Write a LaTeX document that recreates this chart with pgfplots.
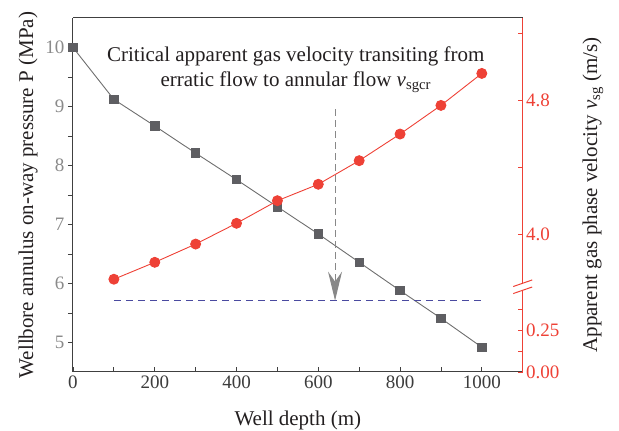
\documentclass[border=0pt]{standalone}
\usepackage{fontspec}
\setmainfont{Liberation Serif}
\usepackage{pgfplots}
\pgfplotsset{compat=1.18}
\usetikzlibrary{arrows.meta}

\definecolor{sqgray}{HTML}{5E5E62}
\definecolor{linegray}{HTML}{6E6E6E}
\definecolor{vred}{HTML}{EE4136}
\definecolor{dashblue}{HTML}{4A4AA0}
\definecolor{ticklab}{HTML}{8A8A8A}
\definecolor{xlab}{HTML}{3C3C3C}
\definecolor{framegray}{HTML}{404040}
\definecolor{labtext}{HTML}{231F20}
\definecolor{arrowgray}{HTML}{888888}

\newcommand{\tickfont}{\fontsize{19}{22}\selectfont}
\newcommand{\labfont}{\fontsize{21}{24}\selectfont}

\begin{document}
\begin{tikzpicture}[x=1pt,y=1pt]
\path[use as bounding box] (-73pt,-59pt) rectangle (546pt,372pt);

% Pressure along the well (left axis)
\begin{axis}[
  at={(0pt,0pt)}, anchor=south west,
  scale only axis, width=449.7pt, height=354pt,
  xmin=0, xmax=1100, ymin=4.5, ymax=10.5,
  axis x line*=bottom, axis y line*=left,
  axis line style={framegray, line width=1pt},
  xtick={0,200,...,1000}, minor xtick={100,300,...,900},
  ytick={5,...,10}, minor ytick={5.5,6.5,...,9.5},
  xtick align=inside, ytick align=outside,
  major tick length=5pt, minor tick length=5pt,
  tick style={framegray, line width=0.8pt},
  x tick label style={font=\tickfont, text=xlab},
  y tick label style={font=\tickfont, text=ticklab},
  /pgf/number format/assume math mode=true,
  /pgf/number format/1000 sep={},
  xlabel={Well depth (m)},
  ylabel={Wellbore annulus on-way pressure P (MPa)},
  xlabel style={at={(axis description cs:0.5,-0.1356)}, anchor=center, font=\labfont, text=labtext},
  ylabel style={at={(axis description cs:-0.1,0.5)}, anchor=center, font=\labfont, text=labtext},
  clip=false,
]
\draw[framegray, line width=1pt] (rel axis cs:0,1) -- (rel axis cs:1,1);

\addplot[linegray, line width=0.9pt, mark=square*, mark size=4.2pt,
  mark options={fill=sqgray, draw=sqgray}] coordinates {
  (0,10.00) (100,9.12) (200,8.67) (300,8.21) (400,7.76) (500,7.30)
  (600,6.84) (700,6.36) (800,5.88) (900,5.41) (1000,4.92)
};

% critical velocity level
\addplot[dashblue, line width=1.2pt, dash pattern=on 7.5pt off 4.5pt] coordinates {
  (100,5.71) (1000,5.71)
};

\draw[arrowgray, line width=1.1pt, dash pattern=on 7pt off 4pt,
  -{Stealth[length=29pt, width=14pt, inset=10pt]}]
  (axis cs:641,8.95) -- (axis cs:641,5.71);

\node[align=center, font=\labfont, text=labtext, inner sep=0pt]
  at (axis cs:545,9.63)
  {Critical apparent gas velocity transiting from\\[1pt]
   erratic flow to annular flow \textit{v}\textsubscript{sgcr}};
\end{axis}

% Apparent gas phase velocity (right axis, broken scale)
\begin{axis}[
  at={(0pt,0pt)}, anchor=south west,
  scale only axis, width=449.7pt, height=354pt,
  xmin=0, xmax=1100, ymin=3.176, ymax=5.290,
  axis x line=none, axis y line*=right,
  y axis line style={draw=none},
  ytick={3.176,3.423,4.0,4.8}, yticklabels={0.00,0.25,4.0,4.8},
  minor ytick={3.300,3.552,4.4,5.2},
  ytick align=inside,
  major tick length=5pt, minor tick length=5pt,
  tick style={vred, line width=0.8pt},
  y tick label style={font=\tickfont, text=vred},
  ylabel={Apparent gas phase velocity \textit{v}\textsubscript{sg} (m/s)},
  ylabel style={at={(axis description cs:1.156,0.5)}, anchor=center, rotate=0, font=\labfont, text=labtext},
  clip=false,
]
\draw[vred, line width=1pt] (rel axis cs:1,0) -- (axis cs:1100,3.664);
\draw[vred, line width=1pt] (axis cs:1100,3.706) -- (rel axis cs:1,1);
\draw[vred, line width=1pt] ([shift={(-9.5pt,-3.3pt)}]axis cs:1100,3.706) -- ([shift={(9.5pt,3.3pt)}]axis cs:1100,3.706);
\draw[vred, line width=1pt] ([shift={(-9.5pt,-3.3pt)}]axis cs:1100,3.664) -- ([shift={(9.5pt,3.3pt)}]axis cs:1100,3.664);

\addplot[vred, line width=0.9pt, mark=*, mark size=5pt,
  mark options={fill=vred, draw=vred}] coordinates {
  (100,3.730) (200,3.831) (300,3.940) (400,4.064) (500,4.199)
  (600,4.297) (700,4.438) (800,4.597) (900,4.768) (1000,4.959)
};
\end{axis}
\end{tikzpicture}
\end{document}
